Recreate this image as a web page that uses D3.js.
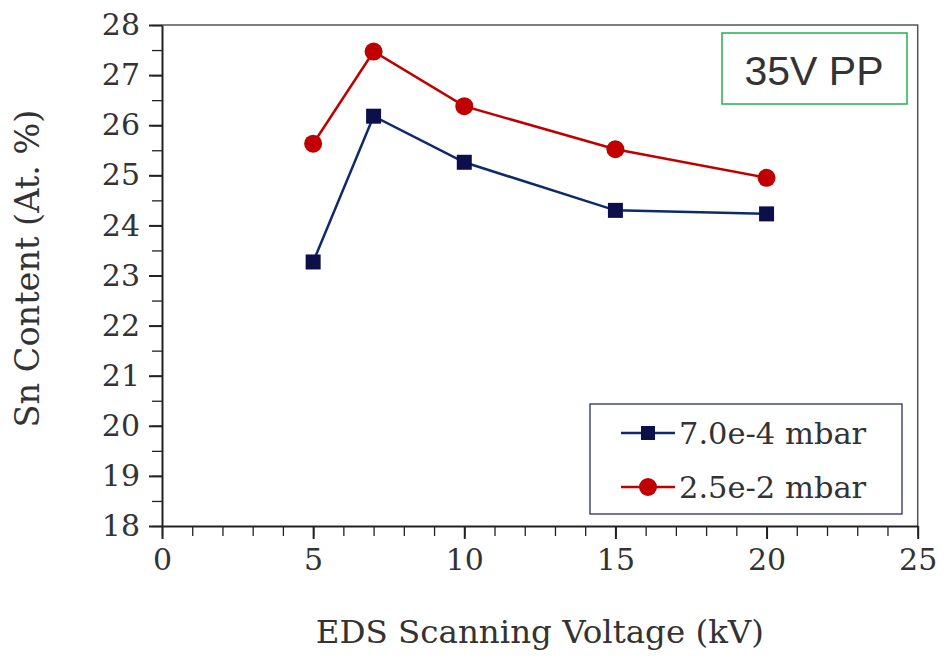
<!DOCTYPE html>
<html>
<head>
<meta charset="utf-8">
<script src="https://cdn.jsdelivr.net/npm/d3@7"></script>
<style>
body { margin: 0; background: #fff; }
svg text { fill: #333; }
</style>
</head>
<body>
<div id="chart"></div>
<script>
const voltages = [5, 7, 10, 15, 20];
const lowPressure = [23.27, 26.18, 25.26, 24.3, 24.23];
const highPressure = [25.63, 27.47, 26.38, 25.52, 24.95];
const seriesNames = ["7.0e-4 mbar", "2.5e-2 mbar"];
const xTicks = [0, 5, 10, 15, 20, 25];
const yTicks = [18, 19, 20, 21, 22, 23, 24, 25, 26, 27, 28];

const width = 948;
const height = 663;
const margin = { top: 25, right: 30, bottom: 137, left: 162 };
const serif = "'DejaVu Serif', serif";

let svg = d3.select("#chart").append("svg")
	.attr("width", width)
	.attr("height", height);

const x = d3.scaleLinear().domain([0, 25]).range([margin.left, width - margin.right - 0.3]);
const y = d3.scaleLinear().domain([18, 28]).range([height - margin.bottom, margin.top]);

// frame (top + right)
svg.append("path")
	.attr("d", `M${x(0)},${y(28)}H${x(25)}V${y(18)}`)
	.attr("fill", "none")
	.attr("stroke", "#555")
	.attr("stroke-width", 1.5);

// minor ticks
svg.append("g")
	.attr("transform", `translate(0,${y(18)})`)
	.call(d3.axisBottom(x).tickValues(d3.range(0, 26, 1)).tickSize(10).tickFormat(""))
	.call((g) => g.select(".domain").remove())
	.selectAll("line").attr("stroke", "#222").attr("stroke-width", 1.3);
svg.append("g")
	.attr("transform", `translate(${x(0)},0)`)
	.call(d3.axisLeft(y).tickValues(d3.range(18, 28.01, 0.5)).tickSize(10).tickFormat(""))
	.call((g) => g.select(".domain").remove())
	.selectAll("line").attr("stroke", "#222").attr("stroke-width", 1.3);

// major axes
const xAxis = svg.append("g")
	.attr("transform", `translate(0,${y(18)})`)
	.call(d3.axisBottom(x).tickValues(xTicks).tickSize(13).tickPadding(10).tickSizeOuter(0));
const yAxis = svg.append("g")
	.attr("transform", `translate(${x(0)},0)`)
	.call(d3.axisLeft(y).tickValues(yTicks).tickSize(13).tickPadding(9).tickSizeOuter(0));

[xAxis, yAxis].forEach((g) => {
	g.attr("font-family", null).attr("font-size", null);
	g.select(".domain").attr("stroke", "#222").attr("stroke-width", 2);
	g.selectAll(".tick line").attr("stroke", "#222").attr("stroke-width", 2);
	g.selectAll(".tick text")
		.style("font-family", serif)
		.style("font-size", "30px")
		.attr("fill", "#333");
});

// axis titles
svg.append("text")
	.attr("x", (x(0) + x(25)) / 2)
	.attr("y", 643)
	.attr("text-anchor", "middle")
	.style("font-family", serif)
	.style("font-size", "32.5px")
	.text("EDS Scanning Voltage (kV)");
svg.append("text")
	.attr("transform", `translate(39,${(y(18) + y(28)) / 2 - 7}) rotate(-90)`)
	.attr("text-anchor", "middle")
	.style("font-family", serif)
	.style("font-size", "33.5px")
	.text("Sn Content (At. %)");

// series
const line = d3.line().x((d) => x(d[0])).y((d) => y(d[1]));
const blue = voltages.map((v, i) => [v, lowPressure[i]]);
const red = voltages.map((v, i) => [v, highPressure[i]]);

svg.append("path").datum(blue)
	.attr("d", line).attr("fill", "none")
	.attr("stroke", "#0f2a6b").attr("stroke-width", 2.5);
svg.append("path").datum(red)
	.attr("d", line).attr("fill", "none")
	.attr("stroke", "#c00000").attr("stroke-width", 2.5);

svg.selectAll(".sq").data(blue).enter().append("rect")
	.attr("class", "sq")
	.attr("x", (d) => x(d[0]) - 7.5)
	.attr("y", (d) => y(d[1]) - 7.5)
	.attr("width", 15).attr("height", 15)
	.attr("fill", "#0d0f4a");
svg.selectAll(".dot").data(red).enter().append("circle")
	.attr("class", "dot")
	.attr("cx", (d) => x(d[0]))
	.attr("cy", (d) => y(d[1]))
	.attr("r", 9)
	.attr("fill", "#c00000");

// legend
const legend = svg.append("g");
legend.append("rect")
	.attr("x", 590).attr("y", 404)
	.attr("width", 312).attr("height", 110)
	.attr("fill", "#fff")
	.attr("stroke", "#2a2f5e").attr("stroke-width", 1.3);
seriesNames.forEach((name, i) => {
	const ly = 433 + i * 54;
	const col = i === 0 ? "#0f2a6b" : "#c00000";
	legend.append("line")
		.attr("x1", 621).attr("x2", 675).attr("y1", ly).attr("y2", ly)
		.attr("stroke", col).attr("stroke-width", 2.5);
	if (i === 0) {
		legend.append("rect").attr("x", 641).attr("y", ly - 7).attr("width", 14).attr("height", 14).attr("fill", "#0d0f4a");
	} else {
		legend.append("circle").attr("cx", 648).attr("cy", ly).attr("r", 9).attr("fill", "#c00000");
	}
	legend.append("text")
		.attr("x", 679).attr("y", ly + 11)
		.style("font-family", serif)
		.style("font-size", "30.5px")
		.text(name);
});

// annotation box
svg.append("rect")
	.attr("x", 722).attr("y", 33)
	.attr("width", 185).attr("height", 71)
	.attr("fill", "#fff")
	.attr("stroke", "#22b04f").attr("stroke-width", 1.5);
svg.append("text")
	.attr("x", 814).attr("y", 85)
	.attr("text-anchor", "middle")
	.style("font-family", "'Liberation Sans', Arial, sans-serif")
	.style("font-size", "41px")
	.text("35V PP");
</script>
</body>
</html>
